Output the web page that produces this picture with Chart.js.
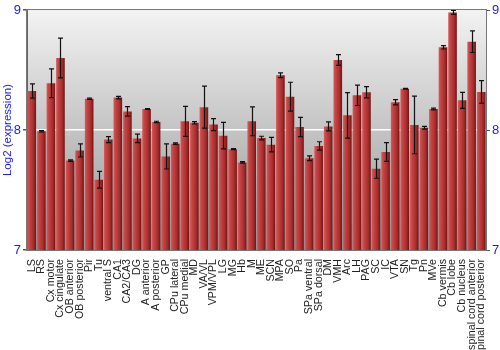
<!DOCTYPE html>
<html>
<head>
<meta charset="utf-8">
<script src="https://cdn.jsdelivr.net/npm/chart.js@4.4.1/dist/chart.umd.min.js"></script>
<style>
    html, body { margin: 0; padding: 0; background: #fff; }
    #wrap { width: 500px; height: 350px; }
</style>
</head>
<body>
<div id="wrap"><canvas id="chart"></canvas></div>
<script>
// === DATA ===
const REGIONS = [
    'LS', 'RS', 'Cx motor', 'Cx cingulate', 'OB anterior', 'OB posterior', 'Pir', 'Tu',
    'ventral S', 'CA1', 'CA2/CA3', 'DG', 'A anterior', 'A posterior', 'GP', 'CPu lateral',
    'CPu medial', 'MD', 'VA/VL', 'VPM/VPL', 'LG', 'MG', 'Hb', 'M',
    'ME', 'SCN', 'MPA', 'SO', 'Pa', 'SPa ventral', 'SPa dorsal', 'DM',
    'VMH', 'Arc', 'LH', 'PAG', 'SC', 'IC', 'VTA', 'SN',
    'Tg', 'Pn', 'MVe', 'Cb vermis', 'Cb lobe', 'Cb nucleus', 'spinal cord anterior', 'spinal cord posterior'
];
const MEANS = [
    8.325, 7.99, 8.39, 8.60, 7.745, 7.83, 8.26, 7.585,
    7.92, 8.27, 8.155, 7.93, 8.175, 8.067, 7.78, 7.886,
    8.072, 8.06, 8.19, 8.045, 7.953, 7.84, 7.73, 8.072,
    7.933, 7.878, 8.456, 8.278, 8.025, 7.764, 7.867, 8.03,
    8.583, 8.122, 8.289, 8.314, 7.678, 7.817, 8.231, 8.344,
    8.042, 8.019, 8.175, 8.689, 8.98, 8.247, 8.736, 8.317
];
const ERRORS = [
    0.06, 0.006, 0.12, 0.165, 0.006, 0.055, 0.006, 0.07,
    0.025, 0.01, 0.04, 0.035, 0.004, 0.006, 0.105, 0.006,
    0.125, 0.01, 0.175, 0.05, 0.11, 0.004, 0.006, 0.12,
    0.015, 0.06, 0.02, 0.12, 0.08, 0.02, 0.035, 0.038,
    0.045, 0.19, 0.085, 0.047, 0.08, 0.078, 0.022, 0.004,
    0.24, 0.012, 0.008, 0.014, 0.017, 0.067, 0.09, 0.094
];
const Y_MIN = 7;
const Y_MAX = 9;
const Y_TITLE = 'Log2 (expression)';

const BAR_PCT = 0.9;
const TICK_BLUE = '#1a1aff';

// gray background fading darker towards the bottom, plus a frame
const backgroundPlugin = {
    id: 'plotBackground',
    beforeDraw(chart) {
        const { ctx, chartArea: a } = chart;
        const g = ctx.createLinearGradient(0, a.top, 0, a.bottom);
        g.addColorStop(0, '#f3f3f3');
        g.addColorStop(1, '#959595');
        ctx.save();
        ctx.fillStyle = g;
        ctx.fillRect(a.left, a.top, a.right - a.left, a.bottom - a.top);
        ctx.restore();
    },
    afterDraw(chart) {
        const { ctx, chartArea: a } = chart;
        ctx.save();
        ctx.strokeStyle = '#777';
        ctx.lineWidth = 1;
        ctx.strokeRect(a.left - 0.5, a.top - 0.5, a.right - a.left + 1, a.bottom - a.top + 1);
        ctx.restore();
    }
};

// error bars read from ERRORS, placed through the chart's own scales
const errorBarPlugin = {
    id: 'errorBars',
    afterDatasetsDraw(chart) {
        const { ctx } = chart;
        const meta = chart.getDatasetMeta(0);
        const y = chart.scales.y;
        ctx.save();
        ctx.strokeStyle = '#111';
        ctx.lineWidth = 1.2;
        meta.data.forEach((bar, i) => {
            const top = y.getPixelForValue(MEANS[i] + ERRORS[i]);
            const bot = y.getPixelForValue(MEANS[i] - ERRORS[i]);
            const x = Math.round(bar.x) + 0.5;
            ctx.beginPath();
            ctx.moveTo(x, top);
            ctx.lineTo(x, bot);
            ctx.moveTo(x - 2.5, top);
            ctx.lineTo(x + 2.5, top);
            ctx.moveTo(x - 2.5, bot);
            ctx.lineTo(x + 2.5, bot);
            ctx.stroke();
        });
        ctx.restore();
    }
};

function barFill(context) {
    const chart = context.chart;
    if (!chart.chartArea || context.dataIndex === undefined) return '#b03030';
    const xs = chart.scales.x;
    const cx = xs.getPixelForValue(context.dataIndex);
    const half = xs.width / REGIONS.length * BAR_PCT / 2;
    const g = chart.ctx.createLinearGradient(cx - half, 0, cx + half, 0);
    g.addColorStop(0, '#d25c5c');
    g.addColorStop(0.25, '#c44444');
    g.addColorStop(0.7, '#a82c2c');
    g.addColorStop(1, '#6f1414');
    return g;
}

const yTicks = {
    stepSize: 1,
    color: TICK_BLUE,
    font: { family: 'Liberation Sans', size: 13 },
    padding: 2
};

new Chart(document.getElementById('chart'), {
    type: 'bar',
    data: {
        labels: REGIONS,
        datasets: [{
            data: MEANS,
            backgroundColor: barFill,
            borderWidth: 0,
            barPercentage: BAR_PCT,
            categoryPercentage: 1
        }]
    },
    options: {
        responsive: true,
        maintainAspectRatio: false,
        animation: false,
        events: [],
        layout: { padding: { top: 10, left: 0, right: 0, bottom: 0 } },
        plugins: {
            legend: { display: false },
            tooltip: { enabled: false }
        },
        scales: {
            x: {
                grid: { display: false },
                border: { color: '#888' },
                ticks: {
                    autoSkip: false,
                    minRotation: 90,
                    maxRotation: 90,
                    padding: 1,
                    color: '#222',
                    font: { family: 'Liberation Sans', size: 10.7 }
                },
                afterFit(scale) { scale.height = 100; }
            },
            y: {
                position: 'left',
                min: Y_MIN,
                max: Y_MAX,
                ticks: yTicks,
                border: { color: '#666' },
                grid: {
                    color: c => (c.tick && c.tick.value === 8 ? '#ffffff' : 'rgba(0,0,0,0)'),
                    lineWidth: 1.5,
                    tickColor: '#555',
                    tickLength: 4
                },
                title: {
                    display: true,
                    text: Y_TITLE,
                    color: TICK_BLUE,
                    font: { family: 'Liberation Sans', size: 11.5 },
                    padding: { top: 1, bottom: 0 }
                },
                afterFit(scale) { scale.width = 27; }
            },
            y2: {
                position: 'right',
                min: Y_MIN,
                max: Y_MAX,
                ticks: yTicks,
                border: { color: '#777' },
                grid: {
                    drawOnChartArea: false,
                    tickColor: '#555',
                    tickLength: 4
                },
                afterFit(scale) { scale.width = 14; }
            }
        }
    },
    plugins: [backgroundPlugin, errorBarPlugin]
});
</script>
</body>
</html>
